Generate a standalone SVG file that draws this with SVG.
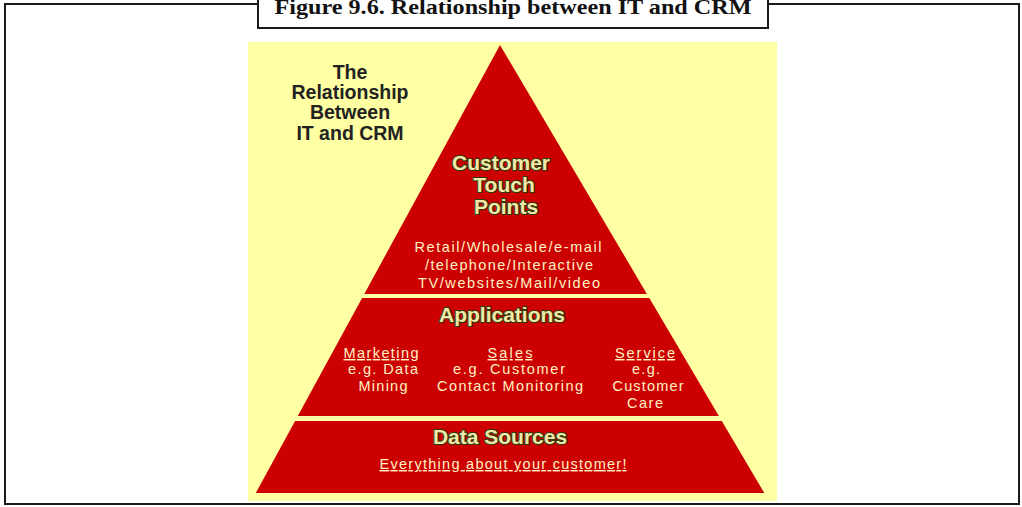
<svg xmlns="http://www.w3.org/2000/svg" width="1022" height="507" viewBox="0 0 1022 507">
<style>
.band{fill:#CC0000}
.head{font-family:"Liberation Sans",Arial,sans-serif;font-weight:bold;font-size:21px;fill:#F2E8A8;stroke:#2E3A0E;stroke-width:2.2;paint-order:stroke fill;stroke-linejoin:round;text-anchor:middle}
.body{font-family:"Liberation Sans",Arial,sans-serif;font-size:14.5px;fill:#FFF2C4;text-anchor:middle}
.ul{text-decoration:underline}
.side{font-family:"Liberation Sans",Arial,sans-serif;font-weight:bold;font-size:19.5px;fill:#222222;text-anchor:middle}
</style>
<rect x="0" y="0" width="1022" height="507" fill="#FFFFFF"/>
<rect x="5" y="4" width="1014" height="500" fill="#FFFFFF" stroke="#1A1A1A" stroke-width="2"/>
<g id="title">
<rect x="258" y="-3" width="510" height="31" fill="#FFFFFF" stroke="#1A1A1A" stroke-width="2"/>
<text x="513" y="14" text-anchor="middle" font-family="Liberation Serif,'Times New Roman',serif" font-weight="bold" font-size="21" textLength="477" lengthAdjust="spacingAndGlyphs" fill="#111111">Figure 9.6. Relationship between IT and CRM</text>
</g>
<rect x="248" y="42" width="529" height="459" fill="#FFFFA3"/>
<g id="side-label">
<text class="side" x="350" y="79">The</text>
<text class="side" x="350" y="99">Relationship</text>
<text class="side" x="350" y="119">Between</text>
<text class="side" x="350" y="140">IT and CRM</text>
</g>
<g id="touch-points">
<polygon class="band" points="500,45 646.9,294 364.3,294"/>
<text class="head" x="501" y="170">Customer</text>
<text class="head" x="504" y="192">Touch</text>
<text class="head" x="506" y="214">Points</text>
<text class="body" x="508" y="252" textLength="187" lengthAdjust="spacing">Retail/Wholesale/e-mail</text>
<text class="body" x="509" y="270" textLength="168" lengthAdjust="spacing">/telephone/Interactive</text>
<text class="body" x="509" y="288" textLength="182" lengthAdjust="spacing">TV/websites/Mail/video</text>
</g>
<g id="applications">
<polygon class="band" points="362.1,298 649.3,298 718.9,416 297.8,416"/>
<text class="head" x="502" y="322">Applications</text>
<text class="body ul" x="381" y="358" textLength="75" lengthAdjust="spacing">Marketing</text>
<text class="body" x="383" y="374" textLength="70" lengthAdjust="spacing">e.g. Data</text>
<text class="body" x="383" y="391" textLength="49" lengthAdjust="spacing">Mining</text>
<text class="body ul" x="510" y="358" textLength="45" lengthAdjust="spacing">Sales</text>
<text class="body" x="509" y="374" textLength="112" lengthAdjust="spacing">e.g. Customer</text>
<text class="body" x="510" y="391" textLength="146" lengthAdjust="spacing">Contact Monitoring</text>
<text class="body ul" x="645" y="358" textLength="60" lengthAdjust="spacing">Service</text>
<text class="body" x="646" y="374" textLength="28" lengthAdjust="spacing">e.g.</text>
<text class="body" x="648" y="391" textLength="71" lengthAdjust="spacing">Customer</text>
<text class="body" x="645" y="408" textLength="36" lengthAdjust="spacing">Care</text>
</g>
<g id="data-sources">
<polygon class="band" points="295.1,421 721.8,421 764.3,493 255.8,493"/>
<text class="head" x="500" y="444">Data Sources</text>
<text class="body ul" x="503" y="469" textLength="247" lengthAdjust="spacing">Everything about your customer!</text>
</g>
<g id="connectors"></g>
</svg>
